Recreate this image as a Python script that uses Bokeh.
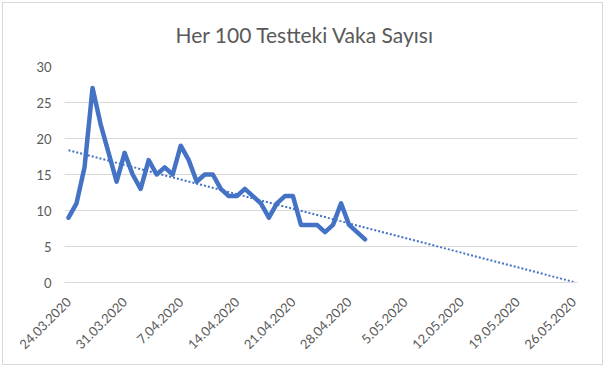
import numpy as np
from bokeh.plotting import figure
from bokeh.models import Range1d, FixedTicker, ColumnDataSource
from bokeh.embed import file_html
from bokeh.resources import INLINE

# ---- data ----
start_date = "24.03.2020"
values = [9, 11, 16, 27, 22, 18, 14, 18, 15, 13,
          17, 15, 16, 15, 19, 17, 14, 15, 15, 13,
          12, 12, 13, 12, 11, 9, 11, 12, 12, 8,
          8, 8, 7, 8, 11, 8, 7, 6]
days = list(range(len(values)))  # days since 24.03.2020
tick_days = [0, 7, 14, 21, 28, 35, 42, 49, 56, 63]
tick_labels = ["24.03.2020", "31.03.2020", "7.04.2020", "14.04.2020", "21.04.2020",
               "28.04.2020", "5.05.2020", "12.05.2020", "19.05.2020", "26.05.2020"]
y_ticks = [0, 5, 10, 15, 20, 25, 30]
title_text = "Her 100 Testteki Vaka Sayısı"

# linear trend (like Excel trendline), forecast to the last tick
slope, intercept = np.polyfit(days, values, 1)
trend_x = [days[0], tick_days[-1]]
trend_y = [intercept + slope * t for t in trend_x]

FONT = "Lato"
GRAY = "#595959"
GRID = "#D9D9D9"
BLUE = "#4472C4"

p = figure(width=605, height=367, output_backend="svg", toolbar_location=None,
           x_range=Range1d(-0.5, 63.5), y_range=Range1d(0, 30),
           min_border_left=64, min_border_right=28, min_border_top=66, min_border_bottom=85,
           title=title_text)
p.outline_line_color = None
p.background_fill_color = None
p.border_fill_color = None
# chart-area border (drawn by CSS, does not change the layout)
p.styles = {"outline": "1px solid #D9D9D9", "outline-offset": "-3px",
            "background-color": "white"}

p.title.align = "left"
p.title.text_font = FONT
p.title.text_font_size = "21px"
p.title.text_font_style = "normal"
p.title.text_color = GRAY
p.title.offset = 111
p.title.standoff = 39

# grid
p.xgrid.grid_line_color = None
p.ygrid.grid_line_color = GRID
p.ygrid.grid_line_width = 1
p.yaxis.ticker = FixedTicker(ticks=y_ticks)
p.xaxis.ticker = FixedTicker(ticks=tick_days)
p.xaxis.major_label_overrides = {d: l for d, l in zip(tick_days, tick_labels)}

# axes
p.yaxis.axis_line_color = None
p.yaxis.major_tick_line_color = None
p.yaxis.minor_tick_line_color = None
p.yaxis.major_label_text_font = FONT
p.yaxis.major_label_text_font_size = "13px"
p.yaxis.major_label_text_color = GRAY
p.yaxis.major_label_standoff = 7

p.xaxis.axis_line_color = GRID
p.xaxis.major_tick_line_color = None
p.xaxis.minor_tick_line_color = None
p.xaxis.major_tick_out = 0
p.xaxis.major_label_text_font = FONT
p.xaxis.major_label_text_font_size = "13px"
p.xaxis.major_label_text_color = GRAY
p.xaxis.major_label_orientation = np.pi / 4
p.xaxis.major_label_standoff = 17

src = ColumnDataSource(dict(x=days, y=values))
p.line("x", "y", source=src, line_color=BLUE, line_width=4.5, line_join="round", line_cap="round")
p.line(trend_x, trend_y, line_color=BLUE, line_width=2, line_dash="2 2")

open("out.html", "w").write(file_html(p, INLINE))
